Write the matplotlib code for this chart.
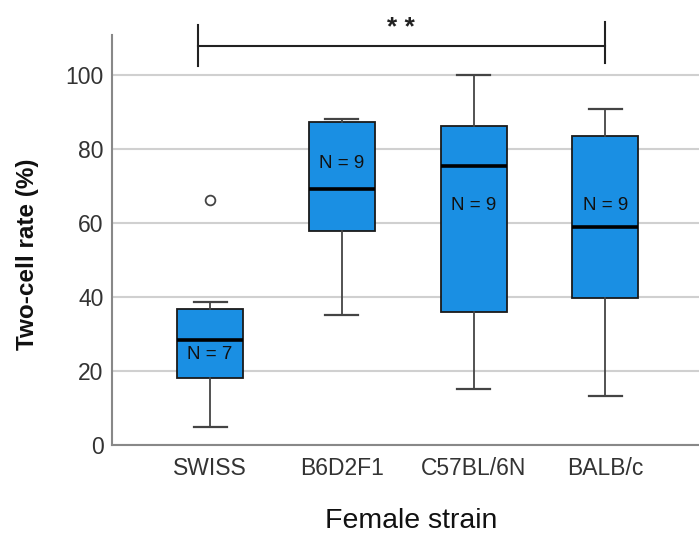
import numpy as np
import matplotlib.pyplot as plt

strains = ['SWISS', 'B6D2F1', 'C57BL/6N', 'BALB/c']
# box statistics (two-cell rate, %)
whislo = [4.9, 35.1, 15.2, 13.1]
q1 = [18.2, 58.0, 36.0, 39.7]
med = [28.3, 69.4, 75.6, 58.9]
q3 = [36.8, 87.4, 86.4, 83.7]
whishi = [38.6, 88.3, 100.0, 91.0]
fliers = [[66.2], [], [], []]
n_labels = ['N = 7', 'N = 9', 'N = 9', 'N = 9']
n_label_y = [24.4, 76.3, 64.8, 64.8]

plt.rcParams['font.family'] = ['Liberation Sans', 'DejaVu Sans']

fig = plt.figure(figsize=(6.99, 5.36), dpi=100)
ax = fig.add_axes([0.160, 0.170, 0.840, 0.765])

stats = []
for i in range(len(strains)):
    stats.append({'whislo': whislo[i], 'q1': q1[i], 'med': med[i], 'q3': q3[i],
                  'whishi': whishi[i], 'fliers': fliers[i], 'label': strains[i]})

pos = np.arange(len(strains))
ax.bxp(stats, positions=pos, widths=0.5, patch_artist=True,
       boxprops=dict(facecolor='#1a8fe3', edgecolor='#1a1a1a', linewidth=1.3),
       medianprops=dict(color='black', linewidth=2.6),
       whiskerprops=dict(color='#444444', linewidth=1.3),
       capprops=dict(color='#444444', linewidth=1.6),
       capwidths=0.25,
       flierprops=dict(marker='o', markerfacecolor='white', markeredgecolor='#444444',
                       markersize=7, markeredgewidth=1.3),
       zorder=3)

for i in range(len(strains)):
    ax.text(pos[i], n_label_y[i], n_labels[i], ha='center', va='center',
            fontsize=13.5, color='#111111', zorder=5)

ax.set_ylim(0, 111)
ax.set_xlim(-0.745, 3.71)
ax.set_yticks([0, 20, 40, 60, 80, 100])
ax.set_xticks(pos)
ax.set_xticklabels(strains)
ax.tick_params(axis='both', length=0, labelsize=16.5, labelcolor='#333333')
ax.tick_params(axis='x', pad=9)
ax.tick_params(axis='y', pad=6)
ax.yaxis.grid(True, color='#d0d0d0', linewidth=1.5, zorder=0)
ax.set_axisbelow(True)

for s in ['top', 'right']:
    ax.spines[s].set_visible(False)
for s in ['left', 'bottom']:
    ax.spines[s].set_color('#888888')
    ax.spines[s].set_linewidth(1.5)

ax.set_ylabel('Two-cell rate (%)', fontsize=17.5, fontweight='bold', color='#111111',
              va='center')
ax.yaxis.set_label_coords(-0.143, 0.466)
ax.set_xlabel('Female strain', fontsize=20.5, color='#111111', va='center')
ax.xaxis.set_label_coords(0.509, -0.186)

# significance bracket SWISS vs BALB/c
ax.plot([-0.09, 3.0], [108, 108], color='#222222', linewidth=1.5, clip_on=False)
ax.plot([-0.09, -0.09], [102.7, 113.7], color='#222222', linewidth=1.5, clip_on=False)
ax.plot([3.0, 3.0], [103.4, 114.4], color='#222222', linewidth=1.5, clip_on=False)
ax.text(1.45, 111.0, '* *', ha='center', va='baseline', fontsize=19, color='#222222',
        fontweight='bold', clip_on=False)

fig.savefig('out.png', dpi=100)
